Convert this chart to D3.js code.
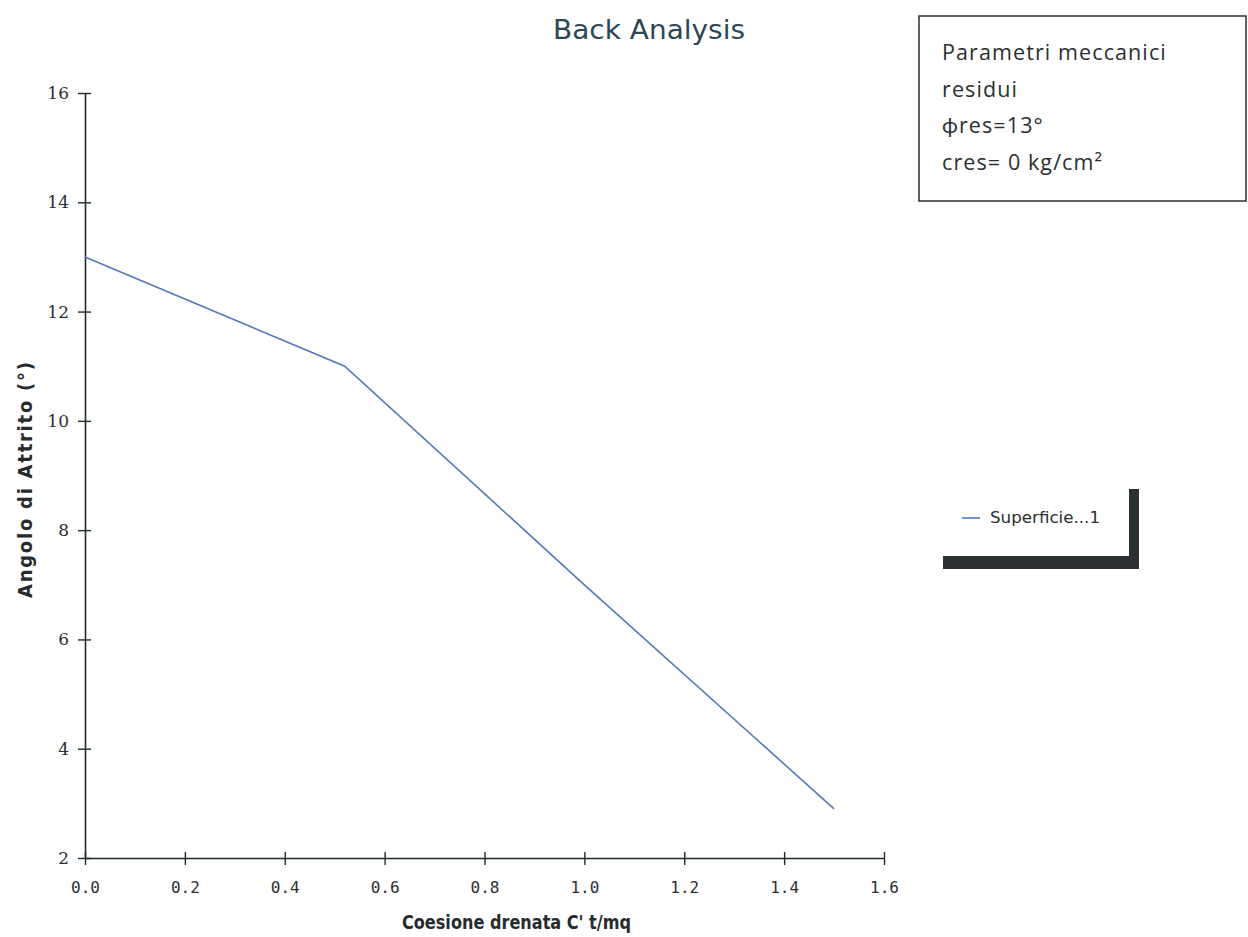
<!DOCTYPE html>
<html>
<head>
<meta charset="utf-8">
<script src="https://cdn.jsdelivr.net/npm/d3@7"></script>
<style>
  body { margin: 0; background: #fff; }
  svg { display: block; }
</style>
</head>
<body>
<svg id="chart" width="1248" height="937"></svg>
<script>
// Back analysis: friction angle vs drained cohesion
const cohesion = [0, 0.52, 1.0, 1.5];
const frictionAngle = [13, 11, 7.0, 2.9];
const xTicks = [0, 0.2, 0.4, 0.6, 0.8, 1.0, 1.2, 1.4, 1.6];
const yTicks = [2, 4, 6, 8, 10, 12, 14, 16];
const seriesName = "Superficie...1";
const noteLines = ["Parametri meccanici", "residui", "\u03d5res=13\u00b0", "cres= 0 kg/cm\u00b2"];

const svg = d3.select("#chart");
const axisColor = "#1f2a2c";

const x = d3.scaleLinear().domain([0, 1.6]).range([85, 884]);
const y = d3.scaleLinear().domain([2, 16]).range([858, 93]);

// title
svg.append("text")
  .attr("x", 649).attr("y", 39)
  .attr("text-anchor", "middle")
  .attr("font-family", "'DejaVu Sans', Verdana, sans-serif")
  .attr("font-size", 26)
  .attr("fill", "#2c4654")
  .attr("textLength", 192)
  .attr("lengthAdjust", "spacingAndGlyphs")
  .text("Back Analysis");

// x axis
const gx = svg.append("g")
  .attr("transform", `translate(0,${y(2)})`)
  .call(d3.axisBottom(x).tickValues(xTicks).tickFormat(d3.format(".1f")).tickSize(6).tickSizeOuter(0));
gx.select(".domain").attr("stroke", axisColor).attr("stroke-width", 1.6);
gx.selectAll(".tick line").attr("stroke", axisColor).attr("stroke-width", 1.4).attr("y1", -6).attr("y2", 7);
gx.selectAll(".tick text")
  .attr("y", 24)
  .attr("font-family", "'DejaVu Sans Mono', 'DejaVu Sans', sans-serif")
  .attr("font-size", 16)
  .attr("fill", "#2a2f30");

// y axis
const gy = svg.append("g")
  .attr("transform", `translate(${x(0)},0)`)
  .call(d3.axisLeft(y).tickValues(yTicks).tickFormat(d3.format("d")).tickSize(6).tickSizeOuter(0));
gy.select(".domain").attr("stroke", axisColor).attr("stroke-width", 1.6);
gy.selectAll(".tick line").attr("stroke", axisColor).attr("stroke-width", 1.4).attr("x1", 6).attr("x2", -7);
gy.selectAll(".tick text")
  .attr("x", -16)
  .attr("font-family", "'DejaVu Serif', 'Liberation Serif', serif")
  .attr("font-size", 17)
  .attr("fill", "#2a2f30");

// axis titles
svg.append("text")
  .attr("x", 402).attr("y", 929)
  .attr("font-family", "'DejaVu Sans Condensed', 'DejaVu Sans', sans-serif")
  .attr("font-weight", "bold")
  .attr("font-size", 19.5)
  .attr("fill", "#262b2c")
  .attr("textLength", 229)
  .attr("lengthAdjust", "spacingAndGlyphs")
  .text("Coesione drenata C'  t/mq");

svg.append("text")
  .attr("transform", "translate(32,598) rotate(-90)")
  .attr("font-family", "'DejaVu Sans Condensed', 'DejaVu Sans', sans-serif")
  .attr("font-weight", "bold")
  .attr("font-size", 20)
  .attr("fill", "#262b2c")
  .attr("textLength", 236)
  .attr("lengthAdjust", "spacing")
  .text("Angolo di Attrito (\u00b0)");

// series line
const pts = cohesion.map((c, i) => [c, frictionAngle[i]]);
svg.append("path")
  .datum(pts)
  .attr("fill", "none")
  .attr("stroke", "#5279bb")
  .attr("stroke-width", 1.6)
  .attr("d", d3.line().x(d => x(d[0])).y(d => y(d[1])));

// legend with drop shadow
const lg = svg.append("g");
lg.append("rect").attr("x", 1129).attr("y", 489).attr("width", 10).attr("height", 80).attr("fill", "#2b3132");
lg.append("rect").attr("x", 943).attr("y", 556).attr("width", 196).attr("height", 13).attr("fill", "#2b3132");
lg.append("line").attr("x1", 962).attr("x2", 980).attr("y1", 518).attr("y2", 518)
  .attr("stroke", "#5279bb").attr("stroke-width", 1.6);
lg.append("text")
  .attr("x", 990).attr("y", 523)
  .attr("font-family", "Tahoma, 'DejaVu Sans', sans-serif")
  .attr("font-size", 15)
  .attr("fill", "#2a2f30")
  .attr("textLength", 110)
  .attr("lengthAdjust", "spacingAndGlyphs")
  .text(seriesName);

// residual parameters note
const note = svg.append("g");
note.append("rect")
  .attr("x", 919).attr("y", 16).attr("width", 327).attr("height", 185)
  .attr("fill", "#fff").attr("stroke", "#2a2f30").attr("stroke-width", 1.5);
note.selectAll("text")
  .data(noteLines)
  .join("text")
  .attr("x", 942)
  .attr("y", (d, i) => 60 + i * 36.7)
  .attr("font-family", "'Open Sans', Lato, sans-serif")
  .attr("font-size", 21.5)
  .attr("letter-spacing", 1.1)
  .attr("fill", "#2a2f30")
  .text(d => d);
</script>
</body>
</html>
